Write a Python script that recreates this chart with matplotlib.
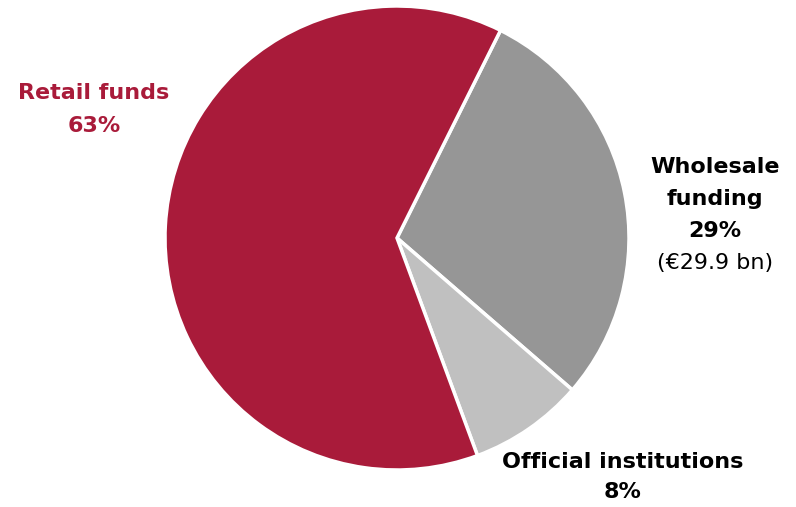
import matplotlib.pyplot as plt

labels = ["Wholesale\nfunding", "Official institutions", "Retail funds"]
shares = [29, 8, 63]
colors = ["#969696", "#c0c0c0", "#a91b3a"]
wholesale_bn = 29.9

fig = plt.figure(figsize=(7.96, 5.07), dpi=100)
ax = fig.add_axes([0, 0, 1, 1])

# y axis runs top-down, so the slices go counterclockwise in data space
ax.pie(shares, colors=colors, startangle=-63.5, counterclock=True,
       center=(397, 238), radius=232, frame=True,
       wedgeprops=dict(edgecolor="white", linewidth=2.5))
ax.set_xlim(0, 796)
ax.set_ylim(507, 0)
ax.set_aspect("equal")
ax.axis("off")


def label(x, ys, lines, color, bold_last=True):
    for i, (y, s) in enumerate(zip(ys, lines)):
        w = "bold" if (bold_last or i < len(lines) - 1) else "normal"
        ax.text(x, y, s, color=color, fontsize=16, fontweight=w,
                ha="center", va="center")


label(94, [93, 126], labels[2].split("\n") + [f"{shares[2]}%"], colors[2])
label(715, [167, 199, 231, 263],
      labels[0].split("\n") + [f"{shares[0]}%", f"(€{wholesale_bn} bn)"],
      "black", bold_last=False)
label(623, [462, 492], labels[1].split("\n") + [f"{shares[1]}%"], "black")

fig.savefig("out.png", dpi=100)
